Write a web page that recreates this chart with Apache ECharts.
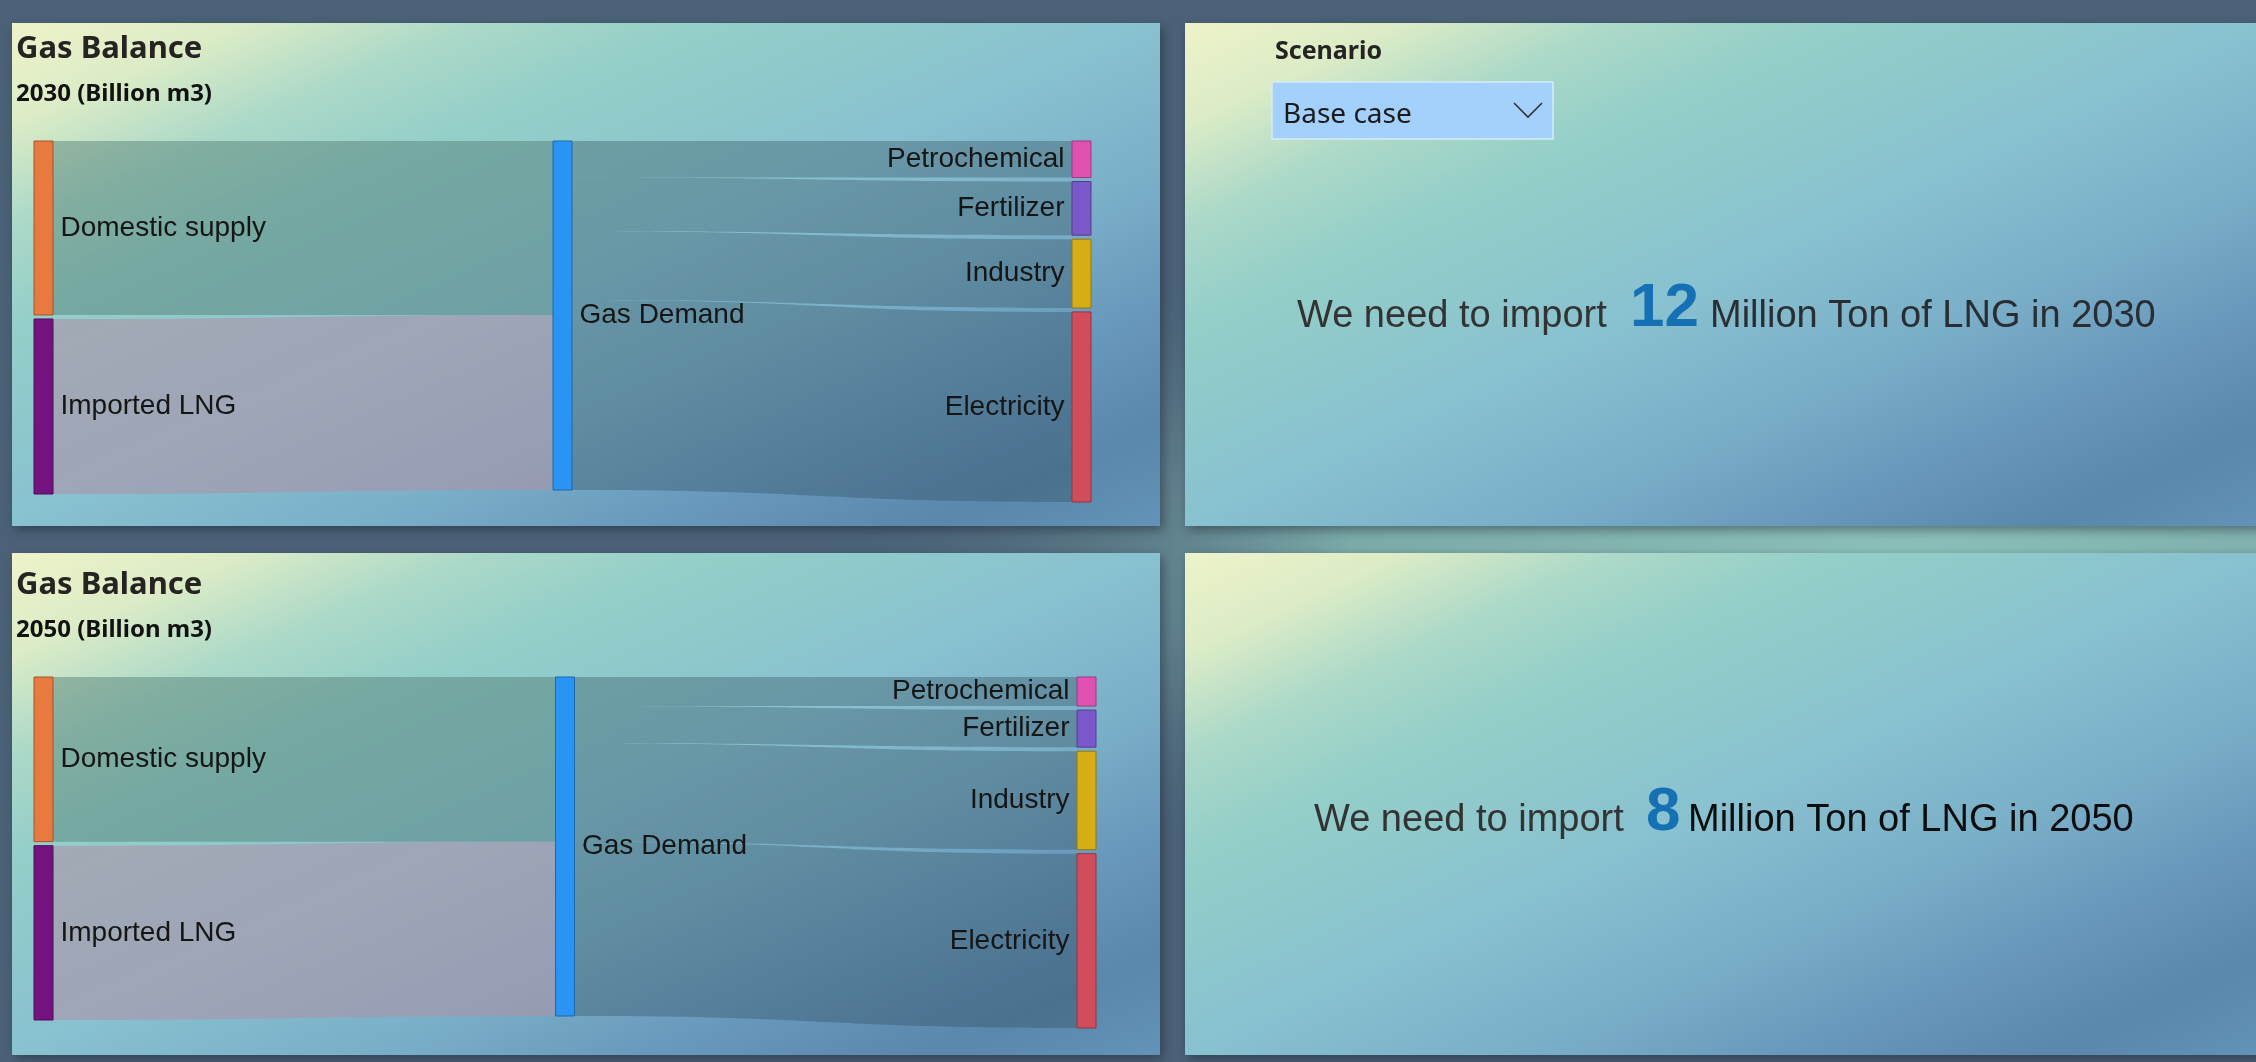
<!DOCTYPE html>
<html>
<head>
<meta charset="utf-8">
<title>Gas Balance</title>
<script src="https://cdn.jsdelivr.net/npm/echarts@6/dist/echarts.min.js"></script>
<style>
  html, body { margin: 0; padding: 0; background: #4a6177; }
  #main { width: 2256px; height: 1062px; }
</style>
</head>
<body>
<div id="main"></div>
<script>
// node names: supply side, hub, demand side
const supplyNames = ['Domestic supply', 'Imported LNG']
const hubName = 'Gas Demand'
const demandNames = ['Petrochemical', 'Fertilizer', 'Industry', 'Electricity']

// Billion m3
const supply2030 = [16.2, 16.3]
const demand2030 = [3.4, 5.0, 6.4, 17.7]
const supply2050 = [10.2, 10.8]
const demand2050 = [1.8, 2.3, 6.1, 10.8]

// Million Ton of LNG
const years = ['2030', '2050']
const lngImport = [12, 8]

const supplyColors = ['#e8793f', '#74137f']
const hubColor = '#2994f3'
const demandColors = ['#e052b2', '#7a58c9', '#d5ad15', '#d24d5c']

const labelFont = '"Liberation Sans", Arial, sans-serif'
const uiFont = '"Noto Sans", "Open Sans", sans-serif'

function darker(hex, k) {
  const c = echarts.color.parse(hex)
  return 'rgb(' + Math.round(c[0] * k) + ',' + Math.round(c[1] * k) + ',' + Math.round(c[2] * k) + ')'
}

function nodeItem(name, color, position) {
  return {
    name: name,
    itemStyle: { color: color, borderColor: darker(color, 0.7), borderWidth: 1 },
    label: { position: position }
  }
}

function createSankey(supply, demand, box) {
  const nodes = []
  const links = []
  supplyNames.forEach((n, i) => {
    nodes.push(nodeItem(n, supplyColors[i], 'right'))
  })
  nodes.push(nodeItem(hubName, hubColor, 'right'))
  demandNames.forEach((n, i) => {
    nodes.push(nodeItem(n, demandColors[i], 'left'))
  })
  // supply -> hub
  links.push({ source: supplyNames[0], target: hubName, value: supply[0],
    lineStyle: { color: '#4f7a70', opacity: 0.45 } })
  links.push({ source: supplyNames[1], target: hubName, value: supply[1],
    lineStyle: { color: '#ab93a6', opacity: 0.6 } })
  // hub -> demand
  demand.forEach((v, i) => {
    links.push({ source: hubName, target: demandNames[i], value: v,
      lineStyle: { color: '#2f4a5a', opacity: 0.35 } })
  })
  return {
    type: 'sankey',
    left: box.left,
    top: box.top,
    width: box.width,
    height: box.height,
    nodeWidth: 19,
    nodeGap: 4,
    nodeAlign: 'justify',
    layoutIterations: 0,
    draggable: false,
    emphasis: { disabled: true },
    label: {
      show: true,
      fontFamily: labelFont,
      fontSize: 28,
      color: '#151515',
      distance: 7
    },
    lineStyle: { curveness: 0.5 },
    data: nodes,
    links: links
  }
}

// diagonal gradient whose bands run corner to corner in box-relative terms
function panelFill(w, h) {
  const s = w * w + h * h
  return {
    type: 'linear', x: 0, y: 0, x2: 2 * h * h / s, y2: 2 * w * w / s,
    colorStops: [
      { offset: 0, color: '#eef3c9' },
      { offset: 0.1, color: '#dcecc6' },
      { offset: 0.2, color: '#acd9c8' },
      { offset: 0.3, color: '#94cfc8' },
      { offset: 0.5, color: '#88c1d0' },
      { offset: 0.65, color: '#7aafc8' },
      { offset: 0.78, color: '#6898bc' },
      { offset: 0.9, color: '#5a87ac' },
      { offset: 1, color: '#6393b8' }
    ]
  }
}

function panel(x, y, w, h) {
  return {
    type: 'rect',
    shape: { x: x, y: y, width: w, height: h },
    style: {
      fill: panelFill(w, h),
      shadowBlur: 10,
      shadowOffsetX: 3,
      shadowOffsetY: 4,
      shadowColor: 'rgba(20,30,40,0.45)'
    }
  }
}

function txt(x, y, text, size, color, weight, family) {
  return {
    type: 'text',
    x: x,
    y: y,
    style: {
      text: text,
      font: (weight || 'normal') + ' ' + size + 'px ' + (family || labelFont),
      fill: color,
      verticalAlign: 'bottom'
    }
  }
}

// one import message: baseline y, x of each part
function importMessage(idx, baseline, xs, tailColor) {
  const d = 0.212
  return [
    txt(xs[0], baseline + 38 * d, 'We need to import', 38, '#333333'),
    txt(xs[1], baseline + 62 * d, String(lngImport[idx]), 62, '#1570b4', 'bold'),
    txt(xs[2], baseline + 38 * d, 'Million Ton of LNG in ' + years[idx], 38, tailColor)
  ]
}

const myChart = echarts.init(document.getElementById('main'))

const option = {
  backgroundColor: '#4a6177',
  animation: false,
  title: [
    { text: 'Gas Balance', left: 16, top: 34, padding: 0,
      textStyle: { fontFamily: uiFont, fontWeight: 'bold', fontSize: 31, color: '#252423' } },
    { text: '2030 (Billion m3)', left: 16, top: 82, padding: 0,
      textStyle: { fontFamily: uiFont, fontWeight: 'bold', fontSize: 24, color: '#111' } },
    { text: 'Gas Balance', left: 16, top: 570, padding: 0,
      textStyle: { fontFamily: uiFont, fontWeight: 'bold', fontSize: 31, color: '#252423' } },
    { text: '2050 (Billion m3)', left: 16, top: 618, padding: 0,
      textStyle: { fontFamily: uiFont, fontWeight: 'bold', fontSize: 24, color: '#111' } },
    { text: 'Scenario', left: 1275, top: 39, padding: 0,
      textStyle: { fontFamily: uiFont, fontWeight: 'bold', fontSize: 25, color: '#252423' } }
  ],
  graphic: {
    elements: [
      // teal glow behind the right-hand panels
      {
        type: 'rect',
        x: 1900,
        y: 560,
        scaleY: 0.35,
        shape: { x: -1100, y: -1100, width: 2200, height: 2200 },
        style: {
          fill: {
            type: 'radial', x: 0.5, y: 0.5, r: 0.5,
            colorStops: [
              { offset: 0, color: 'rgba(140,192,184,1)' },
              { offset: 0.5, color: 'rgba(128,178,174,0.9)' },
              { offset: 1, color: 'rgba(74,97,119,0)' }
            ]
          }
        }
      },
      panel(12, 23, 1148, 503),
      panel(1185, 23, 1080, 503),
      panel(12, 553, 1148, 502),
      panel(1185, 553, 1080, 502),
      // scenario dropdown
      {
        type: 'rect',
        shape: { x: 1272, y: 82, width: 281, height: 57 },
        style: { fill: '#a4d0fc', stroke: '#d6ebf7', lineWidth: 1.5 }
      },
      txt(1283, 129, 'Base case', 28, '#1a1a1a', 'normal', uiFont),
      {
        type: 'polyline',
        shape: { points: [[1514, 103], [1528, 117], [1542, 103]] },
        style: { stroke: '#333', lineWidth: 1.6, fill: null }
      }
    ].concat(importMessage(0, 327, [1297, 1630, 1710], '#2a2e33'))
      .concat(importMessage(1, 831, [1314, 1646, 1688], '#0d0d0d'))
  },
  series: [
    createSankey(supply2030, demand2030, { left: 34, top: 141, width: 1057, height: 361 }),
    createSankey(supply2050, demand2050, { left: 34, top: 677, width: 1062, height: 351 })
  ]
}

myChart.setOption(option)
</script>
</body>
</html>
